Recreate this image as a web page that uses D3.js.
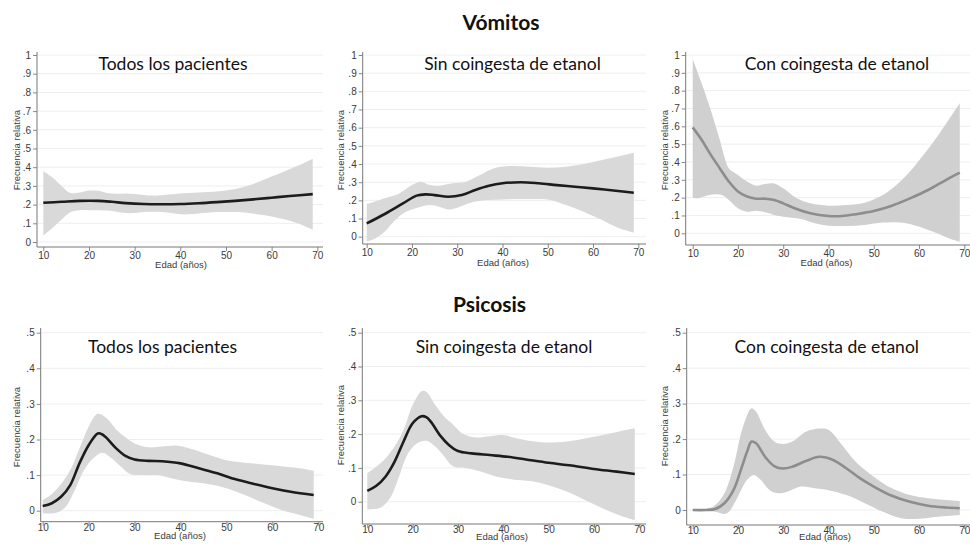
<!DOCTYPE html>
<html>
<head>
<meta charset="utf-8">
<script src="https://cdn.jsdelivr.net/npm/d3@7"></script>
<style>
  html, body { margin: 0; padding: 0; background: #fff; }
  svg { display: block; }
  .tick-label { font-family: "Liberation Sans Narrow", "Liberation Sans", Arial, sans-serif; font-size: 10px; fill: #3a3a3a; }
  .axis-title { font-family: "Liberation Sans", Arial, sans-serif; font-size: 9.5px; fill: #3a3a3a; }
  .panel-title { font-family: Lato, "Open Sans", sans-serif; font-size: 17.5px; fill: #111; }
  .section-title { font-family: Lato, "Open Sans", sans-serif; font-size: 21px; font-weight: 700; fill: #111; }
</style>
</head>
<body>
<svg id="chart" width="970" height="544"></svg>
<script>
// Smoothed relative frequency by age (Edad, años): estimate and 95% band, [age, value]

// Vómitos — Todos los pacientes
const vomTodosMean = [[10,0.21],[14,0.215],[18,0.22],[22,0.22],[25,0.215],[28,0.208],[32,0.203],[36,0.202],[40,0.203],[44,0.207],[48,0.213],[52,0.22],[56,0.228],[60,0.237],[64,0.246],[69,0.256]];
const vomTodosHi = [[10,0.38],[12,0.345],[14,0.30],[16,0.262],[18,0.265],[20,0.275],[22,0.274],[24,0.262],[26,0.258],[28,0.26],[30,0.257],[32,0.252],[34,0.248],[36,0.25],[38,0.255],[40,0.26],[44,0.265],[48,0.27],[50,0.275],[52,0.283],[54,0.295],[56,0.31],[58,0.33],[60,0.35],[63,0.38],[66,0.41],[69,0.445]];
const vomTodosLo = [[10,0.035],[12,0.075],[14,0.12],[16,0.16],[18,0.17],[20,0.17],[24,0.168],[26,0.162],[28,0.155],[30,0.155],[32,0.16],[34,0.162],[36,0.16],[38,0.155],[40,0.148],[42,0.148],[44,0.152],[48,0.16],[52,0.16],[55,0.155],[58,0.145],[60,0.137],[63,0.12],[66,0.098],[69,0.066]];

// Vómitos — Sin coingesta de etanol
const vomSinMean = [[10,0.073],[14,0.125],[18,0.183],[21,0.226],[23,0.233],[25,0.229],[28,0.22],[31,0.229],[34,0.257],[37,0.28],[40,0.294],[44,0.30],[48,0.294],[52,0.284],[56,0.275],[60,0.266],[65,0.253],[69,0.242]];
const vomSinHi = [[10,0.178],[14,0.211],[17,0.235],[20,0.284],[22,0.303],[24,0.284],[26,0.281],[29,0.294],[32,0.303],[35,0.339],[38,0.376],[42,0.389],[46,0.385],[50,0.38],[54,0.385],[58,0.40],[62,0.422],[66,0.444],[69,0.462]];
const vomSinLo = [[10,-0.028],[12,-0.009],[14,0.028],[16,0.083],[18,0.128],[20,0.15],[22,0.165],[24,0.174],[26,0.165],[28,0.15],[30,0.16],[33,0.187],[36,0.20],[40,0.205],[45,0.207],[50,0.205],[53,0.183],[56,0.156],[59,0.125],[62,0.092],[65,0.055],[69,0.022]];

// Vómitos — Con coingesta de etanol
const vomConMean = [[10,0.594],[12,0.523],[14,0.44],[16,0.364],[18,0.29],[20,0.234],[22,0.206],[24,0.194],[26,0.194],[28,0.187],[30,0.168],[33,0.136],[36,0.112],[40,0.097],[43,0.097],[46,0.107],[50,0.125],[54,0.155],[58,0.196],[62,0.243],[66,0.30],[69,0.34]];
const vomConHi = [[10,0.978],[12,0.84],[14,0.69],[16,0.523],[17,0.43],[18,0.364],[20,0.327],[22,0.29],[24,0.267],[26,0.277],[28,0.28],[30,0.252],[33,0.196],[36,0.168],[40,0.155],[44,0.159],[48,0.172],[52,0.215],[55,0.271],[58,0.346],[61,0.44],[64,0.542],[67,0.654],[69,0.729]];
const vomConLo = [[10,0.20],[11,0.196],[13,0.211],[15,0.219],[16.5,0.215],[18,0.187],[20,0.14],[22,0.121],[24,0.127],[26,0.118],[28,0.103],[30,0.093],[34,0.08],[37,0.056],[40,0.043],[44,0.041],[48,0.047],[52,0.06],[55,0.062],[58,0.052],[61,0.028],[64,0.0],[67,-0.032],[69,-0.047]];

// Psicosis — Todos los pacientes
const psiTodosMean = [[10,0.013],[12,0.021],[14,0.039],[16,0.072],[18,0.133],[20,0.184],[22,0.217],[23,0.214],[24,0.203],[26,0.175],[28,0.154],[30,0.144],[33,0.14],[36,0.139],[40,0.133],[44,0.119],[48,0.105],[52,0.088],[56,0.075],[60,0.063],[64,0.053],[69,0.044]];
const psiTodosHi = [[10,0.03],[12,0.047],[14,0.075],[16,0.114],[18,0.175],[20,0.236],[22,0.272],[24,0.259],[26,0.228],[28,0.206],[30,0.189],[33,0.178],[36,0.18],[39,0.183],[42,0.175],[46,0.158],[50,0.142],[54,0.135],[58,0.13],[62,0.125],[66,0.119],[69,0.112]];
const psiTodosLo = [[10,-0.007],[13,-0.006],[15,0.011],[17,0.058],[19,0.114],[21,0.147],[23,0.163],[25,0.147],[27,0.124],[29,0.103],[32,0.10],[35,0.10],[38,0.091],[42,0.081],[46,0.075],[50,0.063],[54,0.044],[58,0.022],[62,0.002],[66,-0.012],[69,-0.023]];

// Psicosis — Sin coingesta de etanol
const psiSinMean = [[10,0.032],[12,0.047],[14,0.074],[16,0.118],[18,0.178],[20,0.232],[22,0.253],[23,0.25],[24,0.237],[26,0.197],[28,0.168],[30,0.15],[33,0.143],[37,0.138],[41,0.133],[45,0.125],[50,0.115],[55,0.107],[60,0.097],[65,0.089],[69,0.082]];
const psiSinHi = [[10,0.084],[12,0.104],[14,0.128],[16,0.163],[18,0.212],[20,0.286],[22,0.327],[23,0.325],[25,0.286],[27,0.251],[29,0.227],[31,0.202],[34,0.19],[37,0.194],[40,0.197],[43,0.187],[47,0.178],[50,0.175],[54,0.178],[58,0.187],[62,0.197],[66,0.209],[69,0.217]];
const psiSinLo = [[10,-0.023],[13,-0.017],[15,0.01],[17,0.074],[19,0.143],[21,0.173],[23,0.18],[25,0.163],[27,0.133],[29,0.104],[32,0.099],[35,0.089],[38,0.076],[42,0.066],[46,0.061],[50,0.049],[54,0.03],[58,0.005],[62,-0.02],[66,-0.042],[69,-0.054]];

// Psicosis — Con coingesta de etanol
const psiConMean = [[10,0.0],[13,0.0],[15,0.003],[17,0.019],[19,0.056],[21,0.127],[22,0.164],[23,0.193],[24,0.188],[26,0.15],[28,0.124],[30,0.117],[32,0.122],[35,0.138],[38,0.15],[41,0.141],[44,0.117],[47,0.089],[50,0.066],[54,0.04],[58,0.023],[62,0.012],[66,0.007],[69,0.005]];
const psiConHi = [[10,0.0],[13,0.003],[15,0.014],[17,0.047],[19,0.122],[21,0.23],[23,0.287],[24,0.277],[26,0.226],[28,0.193],[30,0.186],[32,0.193],[35,0.221],[38,0.23],[40,0.226],[43,0.183],[46,0.136],[50,0.094],[54,0.061],[58,0.042],[62,0.033],[66,0.028],[69,0.025]];
const psiConLo = [[10,0.0],[13,-0.002],[15,-0.005],[17,-0.011],[18,-0.005],[20,0.038],[22,0.085],[23.5,0.099],[25,0.085],[27,0.056],[29,0.047],[31,0.052],[34,0.066],[37,0.061],[40,0.056],[44,0.042],[48,0.019],[52,-0.005],[56,-0.023],[60,-0.025],[64,-0.019],[69,-0.014]];

// Axis ticks and labels
const ageTicks = [10, 20, 30, 40, 50, 60, 70];
const vomTicks = [0, 0.1, 0.2, 0.3, 0.4, 0.5, 0.6, 0.7, 0.8, 0.9, 1];
const psiTicks = [0, 0.1, 0.2, 0.3, 0.4, 0.5];
const sectionTitles = ["Vómitos", "Psicosis"];
const panelTitles = ["Todos los pacientes", "Sin coingesta de etanol", "Con coingesta de etanol"];
const xTitle = "Edad (años)";
const yTitle = "Frecuencia relativa";

// Panel geometry (pixels): axis positions and value→pixel anchors
const layout = [
  { mean: vomTodosMean, hi: vomTodosHi, lo: vomTodosLo, ticks: vomTicks, yMax: 1,
    axX: 37, right: 323, top: 52, bottom: 247, x10: 43.3, x70: 317.3, y0: 242, yM: 55,
    titleX: 173, titleY: 69.5, yTitleX: 20, yTitleY: 150, xTitleX: 181, xTitleY: 267.5, tickY: 258.5, light: false },
  { mean: vomSinMean, hi: vomSinHi, lo: vomSinLo, ticks: vomTicks, yMax: 1,
    axX: 362.7, right: 646, top: 52, bottom: 244, x10: 366.7, x70: 638.3, y0: 236.7, yM: 55,
    titleX: 512.5, titleY: 69.5, yTitleX: 344, yTitleY: 150, xTitleX: 503, xTitleY: 265.5, tickY: 256, light: false },
  { mean: vomConMean, hi: vomConHi, lo: vomConLo, ticks: vomTicks, yMax: 1,
    axX: 685.7, right: 970, top: 52, bottom: 245, x10: 692.7, x70: 964.3, y0: 233.3, yM: 55,
    titleX: 837, titleY: 69.5, yTitleX: 668, yTitleY: 150, xTitleX: 826.5, xTitleY: 266, tickY: 257, light: true },
  { mean: psiTodosMean, hi: psiTodosHi, lo: psiTodosLo, ticks: psiTicks, yMax: 0.5,
    axX: 40.7, right: 323, top: 328, bottom: 521.7, x10: 42.7, x70: 318.3, y0: 510.7, yM: 332.7,
    titleX: 162.5, titleY: 353.3, yTitleX: 20, yTitleY: 427, xTitleX: 180, xTitleY: 539, tickY: 531.5, light: false },
  { mean: psiSinMean, hi: psiSinHi, lo: psiSinLo, ticks: psiTicks, yMax: 0.5,
    axX: 362.3, right: 646, top: 328, bottom: 524, x10: 367.3, x70: 639.3, y0: 501.7, yM: 332.7,
    titleX: 504, titleY: 353, yTitleX: 343.5, yTitleY: 425, xTitleX: 502, xTitleY: 540, tickY: 533, light: false },
  { mean: psiConMean, hi: psiConHi, lo: psiConLo, ticks: psiTicks, yMax: 0.5,
    axX: 686.7, right: 970, top: 328, bottom: 525, x10: 692.7, x70: 964.3, y0: 510, yM: 332.7,
    titleX: 826.7, titleY: 353, yTitleX: 668, yTitleY: 426, xTitleX: 825, xTitleY: 540, tickY: 534, light: true }
];

const svg = d3.select("#chart");

const fmt = v => {
  if (v === 0) return "0";
  if (v === 1) return "1";
  return d3.format(".1f")(v).replace(/^0/, "");
};

layout.forEach((p, i) => {
  const x = d3.scaleLinear().domain([10, 70]).range([p.x10, p.x70]);
  const y = d3.scaleLinear().domain([0, p.yMax]).range([p.y0, p.yM]);
  const g = svg.append("g");

  // horizontal gridlines
  g.selectAll("line.grid").data(p.ticks).join("line")
    .attr("x1", p.axX + 1).attr("x2", p.right)
    .attr("y1", d => y(d)).attr("y2", d => y(d))
    .attr("stroke", "#eeeeee").attr("stroke-width", 1);

  // confidence band: upper bound forward, lower bound back
  const curve = d3.line().x(d => x(d[0])).y(d => y(d[1])).curve(d3.curveCatmullRom.alpha(0.5));
  const bandPath = curve(p.hi) + curve(p.lo.slice().reverse()).replace(/^M/, "L") + "Z";
  g.append("path").attr("d", bandPath)
    .attr("fill", p.light ? "#d0d0d0" : "#d9d9d9").attr("stroke", "none");

  // smoothed estimate
  g.append("path").attr("d", curve(p.mean))
    .attr("fill", "none")
    .attr("stroke", p.light ? "#8d8d8d" : "#1c1c1c")
    .attr("stroke-width", 2.6).attr("stroke-linejoin", "round").attr("stroke-linecap", "butt");

  // y axis
  const yAxis = d3.axisLeft(y).tickValues(p.ticks).tickFormat(fmt).tickSize(4).tickPadding(2);
  const ya = g.append("g").attr("transform", `translate(${p.axX},0)`).call(yAxis);
  ya.select(".domain").remove();
  ya.append("line").attr("x1", 0).attr("x2", 0).attr("y1", p.top).attr("y2", p.bottom)
    .attr("stroke", "#777").attr("stroke-width", 1);
  ya.selectAll(".tick line").attr("stroke", "#888");
  ya.selectAll(".tick text").attr("class", "tick-label").attr("fill", null).attr("font-size", null).attr("font-family", null);

  // x axis
  const xAxis = d3.axisBottom(x).tickValues(ageTicks).tickSize(4).tickPadding(2);
  const xa = g.append("g").attr("transform", `translate(0,${p.bottom})`).call(xAxis);
  xa.select(".domain").remove();
  xa.append("line").attr("x1", p.axX).attr("x2", p.right).attr("y1", 0).attr("y2", 0)
    .attr("stroke", "#777").attr("stroke-width", 1);
  xa.selectAll(".tick line").attr("stroke", "#888");
  xa.selectAll(".tick text").attr("class", "tick-label").attr("fill", null).attr("font-size", null).attr("font-family", null)
    .attr("dy", null).attr("y", p.tickY - p.bottom);
  xa.attr("font-size", null).attr("font-family", null);
  ya.attr("font-size", null).attr("font-family", null);

  // titles
  g.append("text").attr("class", "panel-title").attr("x", p.titleX).attr("y", p.titleY)
    .attr("text-anchor", "middle").text(panelTitles[i % 3]);
  g.append("text").attr("class", "axis-title").attr("x", p.xTitleX).attr("y", p.xTitleY)
    .attr("text-anchor", "middle").text(xTitle);
  g.append("text").attr("class", "axis-title")
    .attr("transform", `translate(${p.yTitleX},${p.yTitleY}) rotate(-90)`)
    .attr("text-anchor", "middle").text(yTitle);
});

svg.append("text").attr("class", "section-title").attr("x", 501).attr("y", 30)
  .attr("text-anchor", "middle").text(sectionTitles[0]);
svg.append("text").attr("class", "section-title").attr("x", 489.5).attr("y", 311.7)
  .attr("text-anchor", "middle").text(sectionTitles[1]);
</script>
</body>
</html>
